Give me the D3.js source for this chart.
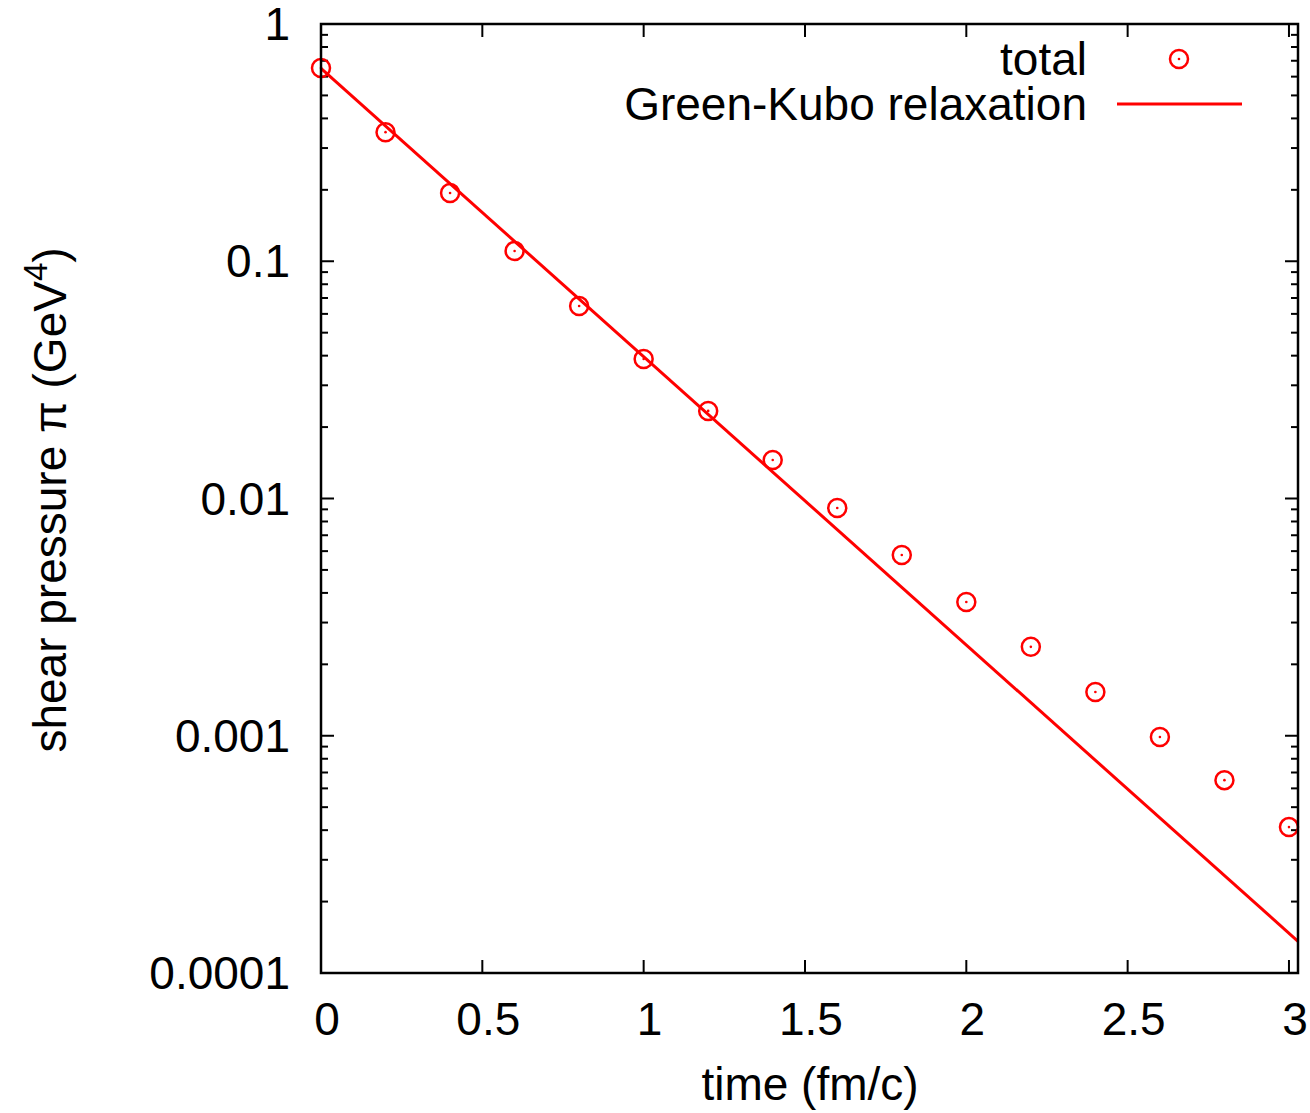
<!DOCTYPE html>
<html lang="en">
<head>
  <meta charset="UTF-8">
  <title>Shear pressure relaxation</title>
  <style>
    html, body {
      background: #ffffff;
      margin: 0px;
      overflow: hidden;
    }
    svg text {
      font-family: "Liberation Sans", Arial, sans-serif;
      fill: #000;
    }
  </style>
</head>
<body>
<div id="container"></div>
<script src="https://cdnjs.cloudflare.com/ajax/libs/d3/7.8.5/d3.min.js"></script>
<script>

    // data
    var times = [0, 0.2, 0.4, 0.6, 0.8, 1.0, 1.2, 1.4, 1.6, 1.8, 2.0, 2.2, 2.4, 2.6, 2.8, 3.0];
    var totalValues = [0.652, 0.350, 0.194, 0.1105, 0.0648, 0.0387, 0.0234, 0.01453,
                       0.00912, 0.00578, 0.00366, 0.00237, 0.00153, 0.000988, 0.000650, 0.000412];
    var relaxTimes = [0, 3.028];
    var relaxValues = [0.65, 0.000136];

    var xTicks = [0, 0.5, 1, 1.5, 2, 2.5, 3];
    var yTicks = [1, 0.1, 0.01, 0.001, 0.0001];
    var yTickLabels = ["1", "0.1", "0.01", "0.001", "0.0001"];

    var width = 1310, height = 1113;
    var margin = {left: 321, right: 12, top: 24, bottom: 140};
    var red = '#ff0000';
    var fs = '46px';

    var svg = d3.select('#container').append('svg')
      .attr('width', width)
      .attr('height', height);

    var x = d3.scaleLinear()
      .domain([0, 3.028])
      .range([margin.left, width - margin.right]);

    var y = d3.scaleLog()
      .domain([0.0001, 1])
      .range([height - margin.bottom, margin.top]);

    var x0 = x.range()[0], x1 = x.range()[1];
    var y0 = y.range()[0], y1 = y.range()[1];

    // minor ticks on the log axis: 2..9 in each decade
    var minorY = [];
    [0.0001, 0.001, 0.01, 0.1].forEach(function(d) {
      for (var k = 2; k <= 9; k++) minorY.push(d * k);
    });

    var major = 13, minor = 7;
    var ticks = svg.append('g')
      .attr('stroke', '#000')
      .attr('stroke-width', 2);

    ticks.selectAll('.xb').data(xTicks).enter().append('line')
      .attr('x1', d => x(d)).attr('x2', d => x(d))
      .attr('y1', y0).attr('y2', y0 - major);
    ticks.selectAll('.xt').data(xTicks).enter().append('line')
      .attr('x1', d => x(d)).attr('x2', d => x(d))
      .attr('y1', y1).attr('y2', y1 + major);

    ticks.selectAll('.yl').data(yTicks).enter().append('line')
      .attr('x1', x0).attr('x2', x0 + major)
      .attr('y1', d => y(d)).attr('y2', d => y(d));
    ticks.selectAll('.yr').data(yTicks).enter().append('line')
      .attr('x1', x1).attr('x2', x1 - major)
      .attr('y1', d => y(d)).attr('y2', d => y(d));
    ticks.selectAll('.yml').data(minorY).enter().append('line')
      .attr('x1', x0).attr('x2', x0 + minor)
      .attr('y1', d => y(d)).attr('y2', d => y(d));
    ticks.selectAll('.ymr').data(minorY).enter().append('line')
      .attr('x1', x1).attr('x2', x1 - minor)
      .attr('y1', d => y(d)).attr('y2', d => y(d));

    // tick labels
    svg.selectAll('.xlab').data(xTicks).enter().append('text')
      .attr('x', d => x(d) + 6)
      .attr('y', y0 + 62)
      .attr('text-anchor', 'middle')
      .style('font-size', fs)
      .text(d => d3.format('~g')(d));

    svg.selectAll('.ylab').data(yTicks).enter().append('text')
      .attr('x', x0 - 31)
      .attr('y', d => y(d) + 16)
      .attr('text-anchor', 'end')
      .style('font-size', fs)
      .text((d, i) => yTickLabels[i]);

    // axis titles
    svg.append('text')
      .attr('x', 810)
      .attr('y', 1100)
      .attr('text-anchor', 'middle')
      .style('font-size', fs)
      .text('time (fm/c)');

    var ytitle = svg.append('text')
      .attr('transform', 'translate(66,500) rotate(-90)')
      .attr('text-anchor', 'middle')
      .style('font-size', fs);
    ytitle.append('tspan').text('shear pressure \u03c0 (GeV');
    ytitle.append('tspan').attr('dy', -19).style('font-size', '33px').text('4');
    ytitle.append('tspan').attr('dy', 19).text(')');

    // relaxation line
    var line = d3.line()
      .x(d => x(d[0]))
      .y(d => y(d[1]));

    svg.append('path')
      .datum(d3.zip(relaxTimes, relaxValues))
      .attr('d', line)
      .attr('fill', 'none')
      .attr('stroke', red)
      .attr('stroke-width', 3);

    // data points
    var pts = svg.append('g');
    pts.selectAll('circle.ring').data(d3.zip(times, totalValues)).enter().append('circle')
      .attr('cx', d => x(d[0]))
      .attr('cy', d => y(d[1]))
      .attr('r', 9)
      .attr('fill', 'none')
      .attr('stroke', red)
      .attr('stroke-width', 2.5);
    pts.selectAll('circle.dot').data(d3.zip(times, totalValues)).enter().append('circle')
      .attr('cx', d => x(d[0]))
      .attr('cy', d => y(d[1]))
      .attr('r', 1.3)
      .attr('fill', red);

    // frame
    svg.append('rect')
      .attr('x', x0).attr('y', y1)
      .attr('width', x1 - x0).attr('height', y0 - y1)
      .attr('fill', 'none')
      .attr('stroke', '#000')
      .attr('stroke-width', 2.5);

    // legend
    var legend = svg.append('g');
    legend.append('text')
      .attr('x', 1087).attr('y', 75)
      .attr('text-anchor', 'end')
      .style('font-size', fs)
      .text('total');
    legend.append('circle')
      .attr('cx', 1179).attr('cy', 59).attr('r', 9)
      .attr('fill', 'none').attr('stroke', red).attr('stroke-width', 2.5);
    legend.append('circle')
      .attr('cx', 1179).attr('cy', 59).attr('r', 1.3)
      .attr('fill', red);
    legend.append('text')
      .attr('x', 1087).attr('y', 120)
      .attr('text-anchor', 'end')
      .style('font-size', fs)
      .text('Green-Kubo relaxation');
    legend.append('line')
      .attr('x1', 1117).attr('x2', 1242)
      .attr('y1', 104).attr('y2', 104)
      .attr('stroke', red).attr('stroke-width', 3);

</script>
</body>
</html>
